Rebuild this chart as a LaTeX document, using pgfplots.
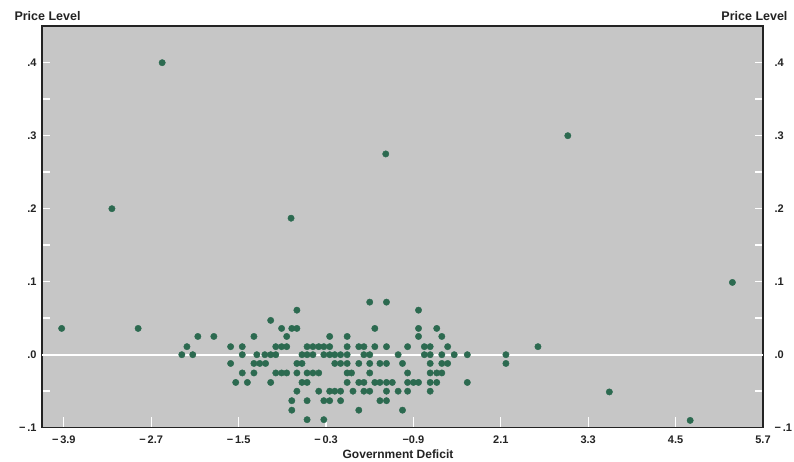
\documentclass[border=0pt]{standalone}
\usepackage{pgfplots}
\pgfplotsset{compat=1.18}
\usepackage{fontspec}
\setmainfont{Liberation Sans}
\definecolor{bggray}{RGB}{198,198,198}
\definecolor{dotgreen}{RGB}{44,106,80}
\definecolor{frame}{RGB}{35,35,35}
\begin{document}
\begin{tikzpicture}
\useasboundingbox (0,0) rectangle (794pt,462pt);
\fill[white] (0,0) rectangle (794pt,462pt);
\begin{axis}[
  at={(42pt,34.3pt)}, anchor=south west,
  scale only axis, width=721pt, height=401.5pt,
  xmin=-4.2, xmax=5.7, ymin=-0.1, ymax=0.45,
  axis background/.style={fill=bggray},
  axis line style={frame, line width=1.4pt},
  tick align=inside,
  xtick={-3.9,-2.7,-1.5,-0.3,0.9,2.1,3.3,4.5,5.7},
  xticklabels={{−\,3.9},{−\,2.7},{−\,1.5},{−\,0.3},{−0.9},{2.1},{3.3},{4.5},{5.7}},
  xtick pos=bottom,
  xtick style={white, line width=1.2pt, /pgfplots/major tick length=11pt},
  ytick={-0.1,0,0.1,0.2,0.3,0.4},
  yticklabels={{−\,.1},{.0},{.1},{.2},{.3},{.4}},
  minor ytick={-0.05,0.05,0.15,0.25,0.35},
  ytick pos=both,
  yticklabel pos=left,
  ytick style={white, line width=1.6pt, /pgfplots/major tick length=8pt, /pgfplots/minor tick length=8pt},
  minor tick style={white, line width=1.6pt},
  ticklabel style={font=\fontsize{11}{12}\selectfont\bfseries, text=frame},
  xticklabel style={yshift=-5pt},
  yticklabel style={xshift=-2pt},
  clip=false,
]
\addplot[white, line width=1.8pt, forget plot] coordinates {(-4.2,0) (5.7,0)};
\addplot[only marks, mark=*, mark size=3.2pt, mark options={draw=dotgreen, fill=dotgreen}] table[row sep=\\] {
x y \\
-3.93 0.036 \\ -2.88 0.036 \\ -2.55 0.400 \\ -3.24 0.200 \\ -0.78 0.187 \\
0.52 0.275 \\ 3.02 0.300 \\ 5.28 0.099 \\ 3.59 -0.051 \\ 4.70 -0.090 \\
0.30 0.072 \\ 0.53 0.072 \\
-0.70 0.061 \\ 0.97 0.061 \\
-1.06 0.047 \\
-0.91 0.036 \\ -0.77 0.036 \\ -0.70 0.036 \\ 0.37 0.036 \\ 0.97 0.036 \\ 1.22 0.036 \\
-2.06 0.025 \\ -1.84 0.025 \\ -1.29 0.025 \\ -0.84 0.025 \\ -0.25 0.025 \\ -0.01 0.025 \\ 0.97 0.025 \\ 1.29 0.025 \\
-2.21 0.011 \\ -1.61 0.011 \\ -1.45 0.011 \\ -0.99 0.011 \\ -0.91 0.011 \\ -0.84 0.011 \\ -0.56 0.011 \\
-0.48 0.011 \\ -0.40 0.011 \\ -0.33 0.011 \\ -0.25 0.011 \\ -0.01 0.011 \\ 0.15 0.011 \\ 0.22 0.011 \\
0.37 0.011 \\ 0.53 0.011 \\ 0.82 0.011 \\ 1.05 0.011 \\ 1.13 0.011 \\ 1.37 0.011 \\ 2.61 0.011 \\
-2.28 0 \\ -2.13 0 \\ -1.45 0 \\ -1.25 0 \\ -1.14 0 \\ -1.06 0 \\ -0.99 0 \\ -0.63 0 \\ -0.56 0 \\
-0.48 0 \\ -0.33 0 \\ -0.25 0 \\ -0.18 0 \\ -0.10 0 \\ -0.01 0 \\ 0.22 0 \\ 0.30 0 \\ 0.69 0 \\
1.05 0 \\ 1.13 0 \\ 1.29 0 \\ 1.46 0 \\ 1.64 0 \\ 2.17 0 \\
-1.61 -0.012 \\ -1.29 -0.012 \\ -1.21 -0.012 \\ -1.13 -0.012 \\ -0.70 -0.012 \\ -0.63 -0.012 \\
-0.18 -0.012 \\ -0.10 -0.012 \\ -0.01 -0.012 \\ 0.15 -0.012 \\ 0.30 -0.012 \\ 0.44 -0.012 \\
0.53 -0.012 \\ 0.75 -0.012 \\ 1.13 -0.012 \\ 1.29 -0.012 \\ 1.37 -0.012 \\ 2.17 -0.012 \\
-1.45 -0.025 \\ -1.29 -0.025 \\ -0.99 -0.025 \\ -0.91 -0.025 \\ -0.84 -0.025 \\ -0.70 -0.025 \\
-0.56 -0.025 \\ -0.48 -0.025 \\ -0.40 -0.025 \\ -0.01 -0.025 \\ 0.05 -0.025 \\ 0.30 -0.025 \\
0.82 -0.025 \\ 1.13 -0.025 \\ 1.22 -0.025 \\ 1.29 -0.025 \\
-1.54 -0.038 \\ -1.38 -0.038 \\ -1.06 -0.038 \\ -0.63 -0.038 \\ -0.56 -0.038 \\ -0.01 -0.038 \\
0.15 -0.038 \\ 0.22 -0.038 \\ 0.37 -0.038 \\ 0.44 -0.038 \\ 0.53 -0.038 \\ 0.61 -0.038 \\
0.82 -0.038 \\ 0.90 -0.038 \\ 0.97 -0.038 \\ 1.13 -0.038 \\ 1.22 -0.038 \\ 1.64 -0.038 \\
-0.70 -0.050 \\ -0.40 -0.050 \\ -0.25 -0.050 \\ -0.18 -0.050 \\ -0.10 -0.050 \\ 0.07 -0.050 \\
0.22 -0.050 \\ 0.30 -0.050 \\ 0.53 -0.050 \\ 0.69 -0.050 \\ 0.82 -0.050 \\ 1.13 -0.050 \\
-0.77 -0.063 \\ -0.56 -0.063 \\ -0.33 -0.063 \\ -0.25 -0.063 \\ -0.10 -0.063 \\ 0.44 -0.063 \\ 0.53 -0.063 \\
-0.77 -0.076 \\ 0.15 -0.076 \\ 0.75 -0.076 \\
-0.56 -0.089 \\ -0.33 -0.089 \\
};
\end{axis}
\begin{axis}[
  at={(42pt,34.3pt)}, anchor=south west,
  scale only axis, width=721pt, height=401.5pt,
  xmin=-4.2, xmax=5.7, ymin=-0.1, ymax=0.45,
  hide x axis,
  axis y line*=right,
  y axis line style={draw=none},
  ytick={-0.1,0,0.1,0.2,0.3,0.4},
  yticklabels={{−\,.1},{.0},{.1},{.2},{.3},{.4}},
  ytick style={draw=none},
  yticklabel style={font=\fontsize{11}{12}\selectfont\bfseries, text=frame, xshift=8pt},
]
\addplot[draw=none] coordinates {(0,0)};
\end{axis}
\node[anchor=base west, font=\fontsize{12.5}{14}\selectfont\bfseries, text=frame] at (11pt,441pt) {Price Level};
\node[anchor=base east, font=\fontsize{12.5}{14}\selectfont\bfseries, text=frame] at (791pt,441pt) {Price Level};
\node[anchor=base, font=\fontsize{12}{14}\selectfont\bfseries, text=frame] at (398pt,3pt) {Government Deficit};
\end{tikzpicture}
\end{document}
